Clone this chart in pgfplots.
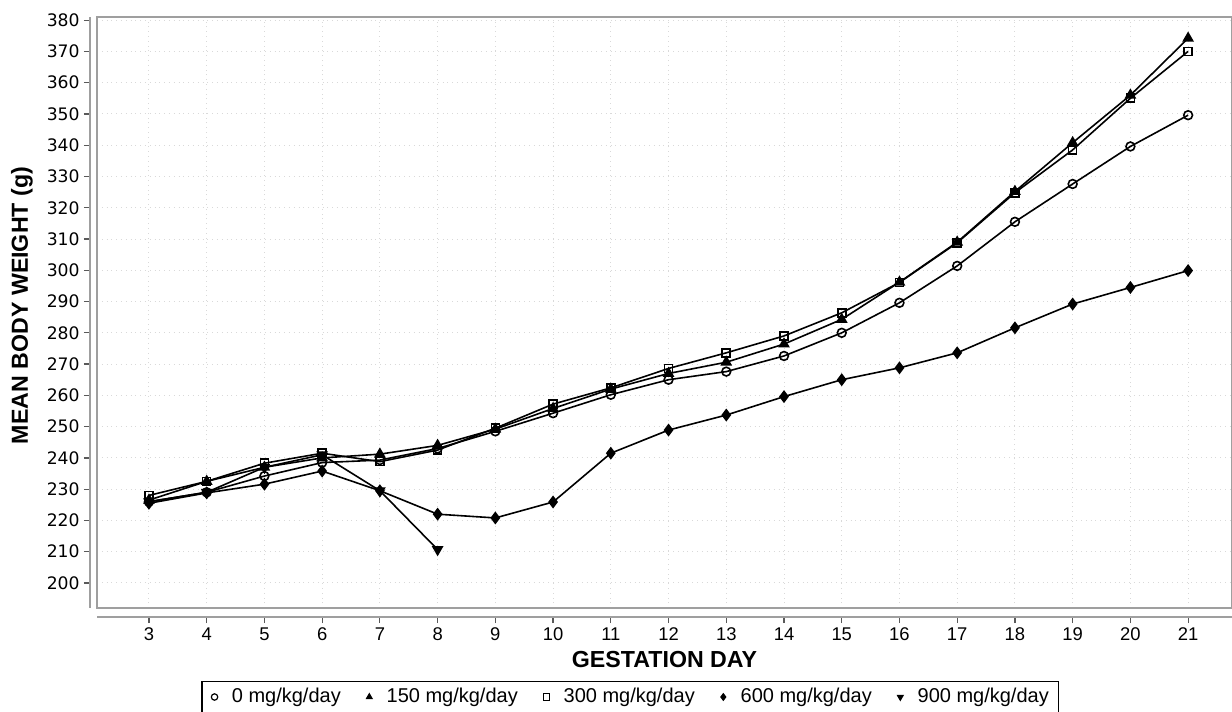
\documentclass[border=0pt]{standalone}
\usepackage{fontspec}
\setmainfont{Liberation Sans}
\newfontfamily\dejavu{DejaVu Sans}
\usepackage{pgfplots}
\pgfplotsset{compat=1.18}
\pgfplotstableread{
day v0 v150 v300 v600
3 226 226.5 228 225.5
4 229 232.5 232.5 228.8
5 234.2 237 238.3 231.6
6 238.5 240 241.5 235.8
7 239.3 241.2 238.8 229.5
8 243 244 242.5 222
9 248.5 249.2 249.5 220.8
10 254.3 255.8 257.2 225.9
11 260.2 262 262.4 241.5
12 265 267 268.6 248.9
13 267.6 270.6 273.6 253.7
14 272.6 276.4 279 259.6
15 280 284.3 286.4 265
16 289.6 296.2 296.1 268.8
17 301.4 309 308.8 273.6
18 315.5 325.2 324.8 281.6
19 327.6 340.8 338.5 289.2
20 339.6 356 355 294.5
21 349.6 374.2 370 299.9
}\bw
\pgfplotstableread{
day v900
3 226
4 229
5 237
6 241
7 229.5
8 210.7
}\bwnine
\begin{document}
\begin{tikzpicture}
\path[use as bounding box] (-48.5pt,-52pt) rectangle (567.5pt,304pt);
\pgfplotsset{common/.style={scale only axis, width=567.5pt, height=295.5pt,
  xmin=2.1, xmax=21.76, ymin=192, ymax=381, at={(0,0)}, anchor=south west}}
% offset y axis
\begin{axis}[common, xshift=-3.5pt, axis y line*=left, hide x axis,
  ytick={200,210,...,380}, tick align=outside, major tick length=3pt,
  tick style={black!65, line width=0.6pt},
  axis line style={gray!75, line width=1pt},
  /pgf/number format/assume math mode=true,
  yticklabel style={font=\dejavu\fontsize{8.6}{10}\selectfont, inner sep=2pt}]
\addplot[draw=none] coordinates {(3,200)};
\end{axis}
% offset x axis
\begin{axis}[common, yshift=-4.5pt, axis x line*=bottom, hide y axis,
  xtick={3,...,21}, tick align=outside, major tick length=3pt,
  tick style={black!65, line width=0.6pt},
  axis line style={gray!75, line width=1pt},
  /pgf/number format/assume math mode=true,
  xticklabel style={font=\fontsize{9.2}{11}\selectfont, inner sep=2pt}]
\addplot[draw=none] coordinates {(3,200)};
\end{axis}
% main axis
\begin{axis}[common,
  axis line style={draw=gray!75, line width=1pt},
  xtick={3,...,21}, ytick={200,210,...,380},
  xticklabels={}, yticklabels={}, major tick length=0pt,
  grid=major, grid style={gray!30, dotted, line width=0.5pt},
  xlabel={\bfseries GESTATION DAY},
  ylabel={\bfseries MEAN BODY WEIGHT (g)},
  every axis x label/.style={at={(axis description cs:0.5,0)}, yshift=-26pt, anchor=center, font=\fontsize{11.6}{13}\selectfont},
  every axis y label/.style={at={(axis description cs:0,0.5)}, xshift=-37.5pt, yshift=3.5pt, rotate=90, anchor=center, font=\fontsize{11.6}{13}\selectfont},
  legend columns=5,
  legend style={at={(axis description cs:0.47,-0.1506)}, anchor=center,
    draw=black, line width=0.6pt, font=\fontsize{10}{12}\selectfont,
    inner ysep=1.5pt, inner xsep=3pt,
    /tikz/every even column/.append style={column sep=9pt}},
  legend image code/.code={\path (0cm,0cm) (0.32cm,0cm); \draw[#1, mark size=1.6pt, line width=0.6pt] plot[only marks] coordinates {(0.1cm,0cm)};},
  every axis plot/.append style={black, line width=0.8pt}]
\addplot[mark=o, mark size=2.2pt, mark options={fill=white}] table[x=day,y=v0] {\bw};
\addlegendentry{0 mg/kg/day}
\addplot[mark=triangle*, mark size=2.6pt] table[x=day,y=v150] {\bw};
\addlegendentry{150 mg/kg/day}
\addplot[mark=square, mark size=2pt] table[x=day,y=v300] {\bw};
\addlegendentry{300 mg/kg/day}
\addplot[mark=diamond*, mark size=2.6pt] table[x=day,y=v600] {\bw};
\addlegendentry{600 mg/kg/day}
\addplot[mark=triangle*, mark size=2.6pt, mark options={rotate=180}] table[x=day,y=v900] {\bwnine};
\addlegendentry{900 mg/kg/day}
\end{axis}
\end{tikzpicture}
\end{document}
